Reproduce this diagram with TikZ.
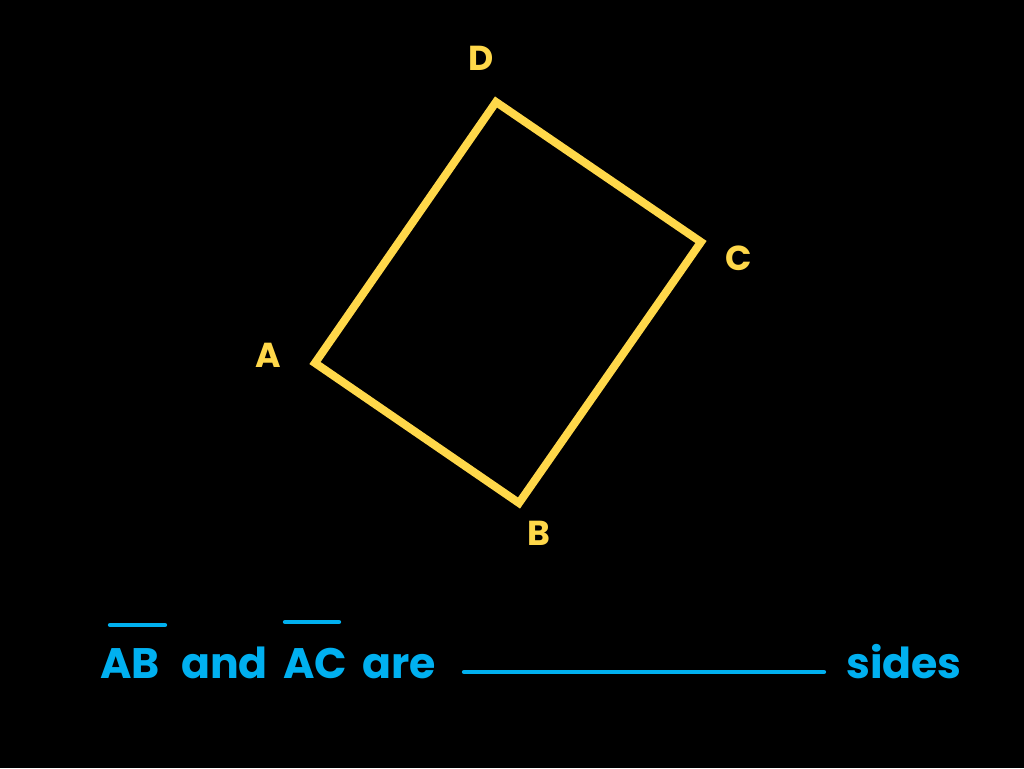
\documentclass[tikz,border=0pt]{standalone}
\usepackage{fontspec}
\setmainfont{Poppins}
\definecolor{ylw}{HTML}{FFD84A}
\definecolor{blu}{HTML}{00B0F0}
\begin{document}
\begin{tikzpicture}[x=0.75pt,y=-0.75pt,
  quadline/.style={draw=ylw,line width=6pt,line join=miter},
  vlabel/.style={text=ylw,font=\fontsize{26}{26}\selectfont\bfseries,inner sep=0pt},
  word/.style={text=blu,font=\fontsize{32}{32}\selectfont\bfseries,inner sep=0pt,anchor=base west},
  bar/.style={draw=blu,line width=3.2pt,line cap=round}]
\fill[black] (0,0) rectangle (1024,768);
\useasboundingbox (0,0) rectangle (1024,768);
\coordinate (A) at (315,363);
\coordinate (B) at (519,503);
\coordinate (C) at (701,242);
\coordinate (D) at (496,102);
\draw[quadline] (A) -- (B) -- (C) -- (D) -- cycle;
\node[vlabel] (lD) at (481,58) {D};
\node[vlabel] (lC) at (739,258) {C};
\node[vlabel] (lA) at (268,355) {A};
\node[vlabel] (lB) at (539,533) {B};
\node[word] (w1) at (100,678) {AB};
\node[word] (w2) at (181,678) {and};
\node[word] (w3) at (283,678) {AC};
\node[word] (w4) at (362,678) {are};
\node[word] (w5) at (846,678) {sides};
\coordinate (o1a) at (110,625); \coordinate (o1b) at (165,625);
\coordinate (o2a) at (285,622); \coordinate (o2b) at (339,622);
\draw[bar] (o1a) -- (o1b);
\draw[bar] (o2a) -- (o2b);
\coordinate (ba) at (464,672); \coordinate (bb) at (824,672);
\draw[bar] (ba) -- (bb);
\end{tikzpicture}
\end{document}
